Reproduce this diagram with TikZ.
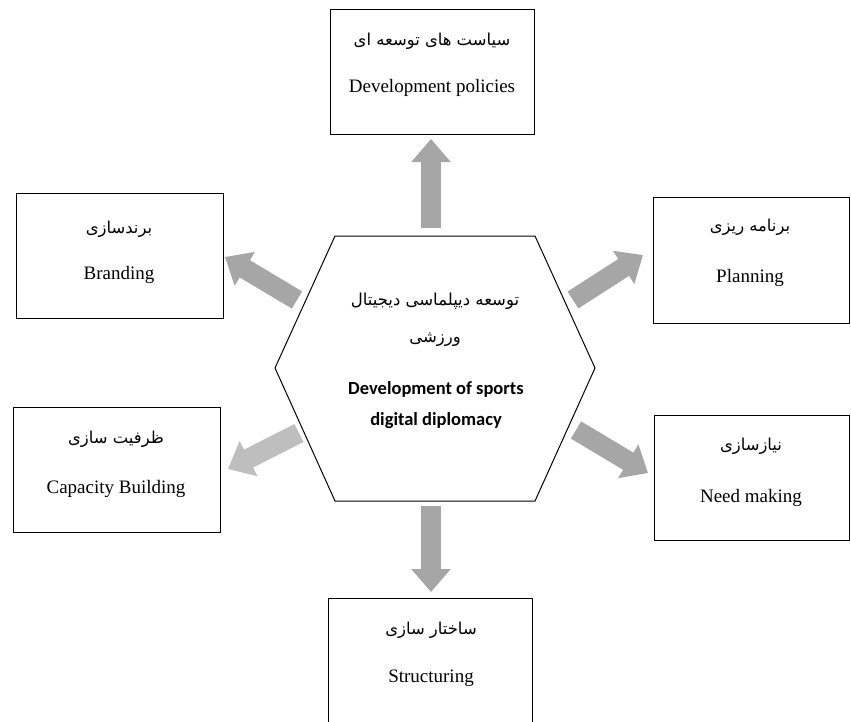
\documentclass[tikz,border=0pt]{standalone}
\usepackage{fontspec}
\setmainfont{Liberation Serif}
\newfontfamily\arabicfont[Script=Arabic]{DejaVu Sans}
\newfontfamily\carlitofont{Carlito}
\TeXXeTstate=1
\usetikzlibrary{arrows.meta}
\definecolor{arrowgray}{RGB}{166,166,166}
\definecolor{lightarrow}{RGB}{190,190,190}
\tikzset{
  box/.style={draw=black, line width=1.3pt, fill=white, minimum width=204pt, minimum height=125pt, anchor=north west, inner sep=0pt},
  fa/.style={font=\arabicfont\fontsize{16.4}{19}\selectfont},
  en/.style={font=\fontsize{19}{22}\selectfont},
  blockarrow/.style={draw=arrowgray, line width=20pt, -{Triangle[length=23pt,width=38pt]}},
  lightblock/.style={draw=lightarrow, line width=20pt, -{Triangle[length=23pt,width=38pt]}},
}
\begin{document}
\begin{tikzpicture}[x=1pt,y=-1pt]
\clip (0,0) rectangle (851,721);
\fill[white] (0,0) rectangle (851,721);
% boxes
\node[box] (pol) at (330,9) {};
\node[box, minimum width=207pt] (bra) at (16,193) {};
\node[box, minimum width=196pt, minimum height=126pt] (pla) at (653,197) {};
\node[box, minimum width=207pt] (cap) at (13,407) {};
\node[box, minimum width=195pt] (nee) at (654,415) {};
\node[box, minimum height=140pt] (str) at (328,598) {};
% texts
\node[fa] (polfa) at (432,41) {\beginR سیاست های توسعه ای\endR};
\node[en] (polen) at (432,88) {Development policies};
\node[fa] (brafa) at (119,229) {\beginR برندسازی\endR};
\node[en] (braen) at (119,275) {Branding};
\node[fa] (plafa) at (750,227) {\beginR برنامه ریزی\endR};
\node[en] (plaen) at (750,278) {Planning};
\node[fa] (capfa) at (116,439) {\beginR ظرفیت سازی\endR};
\node[en] (capen) at (116,489) {Capacity Building};
\node[fa] (neefa) at (751,446) {\beginR نیازسازی\endR};
\node[en] (neeen) at (751,498) {Need making};
\node[fa] (strfa) at (431,630) {\beginR ساختار سازی\endR};
\node[en] (stren) at (431,678) {Structuring};
% hexagon
\coordinate (h1) at (335,236);
\coordinate (h2) at (535,236);
\coordinate (h3) at (595,368);
\coordinate (h4) at (535,501);
\coordinate (h5) at (335,501);
\coordinate (h6) at (275,368);
\draw[line width=1pt, fill=white] (h1) -- (h2) -- (h3) -- (h4) -- (h5) -- (h6) -- cycle;
\node[font=\arabicfont\fontsize{16.5}{19}\selectfont] (cfa1) at (435,301) {\beginR توسعه دیپلماسی دیجیتال\endR};
\node[font=\arabicfont\fontsize{16.5}{19}\selectfont] (cfa2) at (435,340) {\beginR ورزشی\endR};
\node[font=\carlitofont\bfseries\fontsize{18.5}{22}\selectfont] (cen1) at (436,389) {Development of sports};
\node[font=\carlitofont\bfseries\fontsize{18.5}{22}\selectfont] (cen2) at (436,421) {digital diplomacy};
% arrow endpoints
\coordinate (uS) at (431,228); \coordinate (uE) at (431,139);
\coordinate (bS) at (297,300); \coordinate (bE) at (225,257);
\coordinate (pS) at (573,300); \coordinate (pE) at (643,255);
\coordinate (cS) at (299,433); \coordinate (cE) at (228,469);
\coordinate (nS) at (576,430); \coordinate (nE) at (648,473);
\coordinate (dS) at (431,506); \coordinate (dE) at (431,592);
\draw[blockarrow] (uS) -- (uE);
\draw[blockarrow] (bS) -- (bE);
\draw[blockarrow] (pS) -- (pE);
\draw[lightblock] (cS) -- (cE);
\draw[blockarrow] (nS) -- (nE);
\draw[blockarrow] (dS) -- (dE);
\end{tikzpicture}
\end{document}
